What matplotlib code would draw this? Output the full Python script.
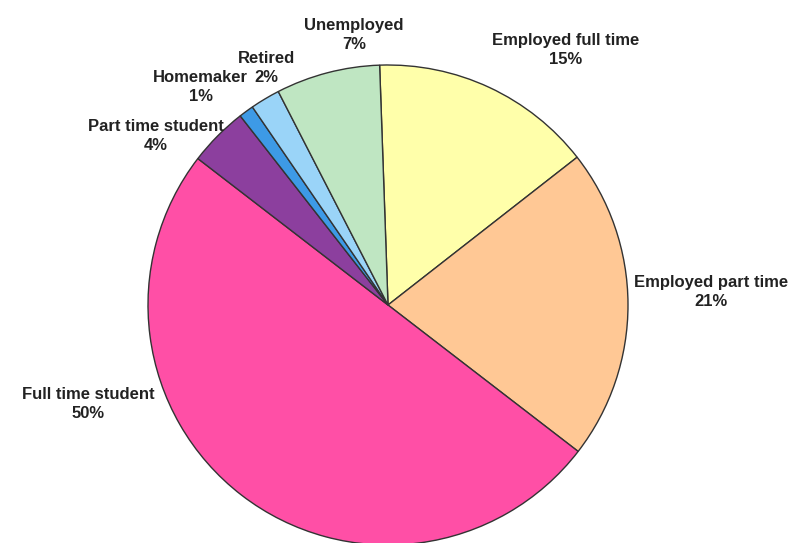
import matplotlib
matplotlib.use("Agg")
import matplotlib.pyplot as plt

# employment status breakdown (percent of respondents)
categories = ['Employed full time', 'Employed part time', 'Full time student',
              'Part time student', 'Homemaker', 'Retired', 'Unemployed']
percent = [15, 21, 50, 4, 1, 2, 7]

colors = ['#FFFFAA', '#FFC895', '#FF4FA6', '#8C3F9E', '#3D9AE6', '#9AD4F8', '#BFE6C2']

# where each label sits (data units, pie radius = 1)
label_xy = [(0.742, 1.062), (1.346, 0.054), (-1.25, -0.412), (-0.967, 0.704),
            (-0.78, 0.909), (-0.505, 0.988), (-0.142, 1.125)]

fig = plt.figure(figsize=(7.95, 5.43), dpi=100)
ax = fig.add_axes([0, 0, 1, 1])

wedges, _ = ax.pie(percent, colors=colors, startangle=92, counterclock=False,
                   radius=1.0, center=(0, 0),
                   wedgeprops=dict(edgecolor='#333333', linewidth=1.0))

for name, p, (x, y) in zip(categories, percent, label_xy):
    ax.text(x, y, name + '\n' + str(p) + '%', ha='center', va='center',
            fontsize=12, fontweight='bold', color='#222222',
            family='Liberation Sans', linespacing=1.3)

ax.set_xlim(-388 / 240, (795 - 388) / 240)
ax.set_ylim(-(543 - 305) / 240, 305 / 240)
ax.set_aspect('equal')
ax.axis('off')

fig.savefig('out.png', dpi=100)
